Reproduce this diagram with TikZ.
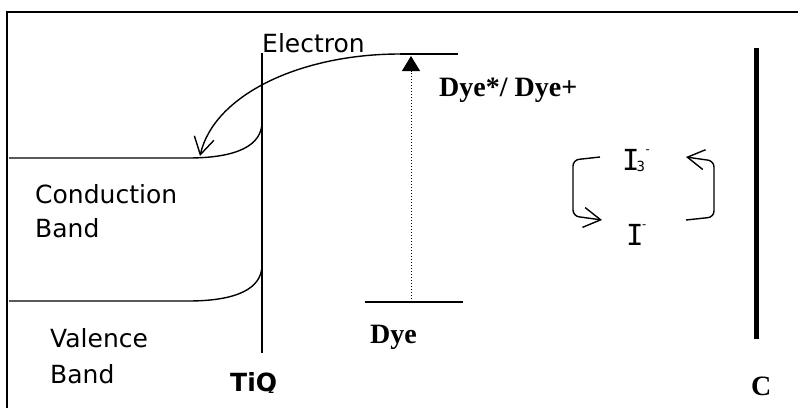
\documentclass[tikz,border=0pt]{standalone}
\usepackage{fontspec}
\setmainfont{DejaVu Sans}
\newfontfamily\timesfont{Liberation Serif}
\newfontfamily\monofont{DejaVu Sans Mono}
\usetikzlibrary{arrows.meta}
\begin{document}
\begin{tikzpicture}[x=1pt,y=-1pt,
  lbl/.style={inner sep=0pt,anchor=base west,font=\fontsize{25}{28}\selectfont},
  serifbold/.style={inner sep=0pt,anchor=base west,font=\timesfont\bfseries\fontsize{28}{30}\selectfont},
  ion/.style={inner sep=0pt,anchor=base west,font=\monofont\fontsize{29}{30}\selectfont},
  line/.style={line width=1.4pt},
  barb/.style={-{Straight Barb[length=17pt,width=20pt,line width=1.4pt]}}
]
\useasboundingbox (0,0) rectangle (798,408);
% frame
\draw[line width=2.4pt] (7,408) -- (7,12) -- (798,12);
% named points
\coordinate (tioT) at (262,53);
\coordinate (tioB) at (262,353);
\coordinate (dsR) at (458,54);
\coordinate (dsL) at (400,54);
\coordinate (ebEnd) at (200,156);
\coordinate (cbL) at (9,158);
\coordinate (cbM) at (188,158);
\coordinate (cbE) at (262,122);
\coordinate (vbL) at (9,301);
\coordinate (vbM) at (188,301);
\coordinate (vbE) at (262,265);
\coordinate (dyL) at (365,302);
\coordinate (dyR) at (463,302);
\coordinate (dyUp) at (411,302);
\coordinate (dyTip) at (411,56);
\coordinate (cT) at (756.5,48);
\coordinate (cB) at (756.5,339);
% TiO2 interface
\draw[line] (tioT) -- (tioB);
% conduction band
\draw[line] (cbL) -- (cbM) .. controls (236,158) and (262,146) .. (cbE);
% valence band
\draw[line] (vbL) -- (vbM) .. controls (236,301) and (262,289) .. (vbE);
% dye excited level and electron injection
\draw[line] (dsR) -- (dsL);
\draw[line,barb] (dsL) .. controls (300,54) and (214,95) .. (ebEnd);
% dye ground level
\draw[line] (dyL) -- (dyR);
\draw[line width=1pt,dotted,-{Triangle[length=15pt,width=18pt]}] (dyUp) -- (dyTip);
% counter electrode
\draw[line width=5pt] (cT) -- (cB);
% texts
\node[lbl] (electron) at (262,52) {Electron};
\node[lbl] (cond) at (35,203) {Conduction};
\node[lbl] (band1) at (35,237) {Band};
\node[lbl] (val) at (50,347) {Valence};
\node[lbl] (band2) at (50,383) {Band};
\node[lbl,font=\bfseries\fontsize{25}{28}\selectfont] (tio) at (230,391) {TiO\kern-9pt\raisebox{-2pt}{\fontsize{9}{9}\selectfont 2}};
\node[serifbold] (dye) at (370,343) {Dye};
\node[serifbold] (dyestar) at (439,96) {Dye*/ Dye+};
\node[serifbold] (celec) at (751,395) {C};
\node[ion] (i3) at (622,170) {I\kern-3pt\raisebox{-1pt}{\fontsize{14}{14}\selectfont 3}\kern-1pt\raisebox{17pt}{\fontsize{12}{12}\selectfont -}};
\node[ion] (i1) at (626,245) {I\kern-3pt\raisebox{17pt}{\fontsize{12}{12}\selectfont -}};
% redox cycle arrows
\coordinate (la) at (600,157);
\coordinate (lb) at (602,220);
\coordinate (ra) at (686,220);
\coordinate (rb) at (686,157);
\draw[line,barb,rounded corners=6pt] (la) -- (573,160) -- (573,216) -- (lb);
\draw[line,barb,rounded corners=6pt] (ra) -- (714,217) -- (714,161) -- (rb);
\end{tikzpicture}
\end{document}
